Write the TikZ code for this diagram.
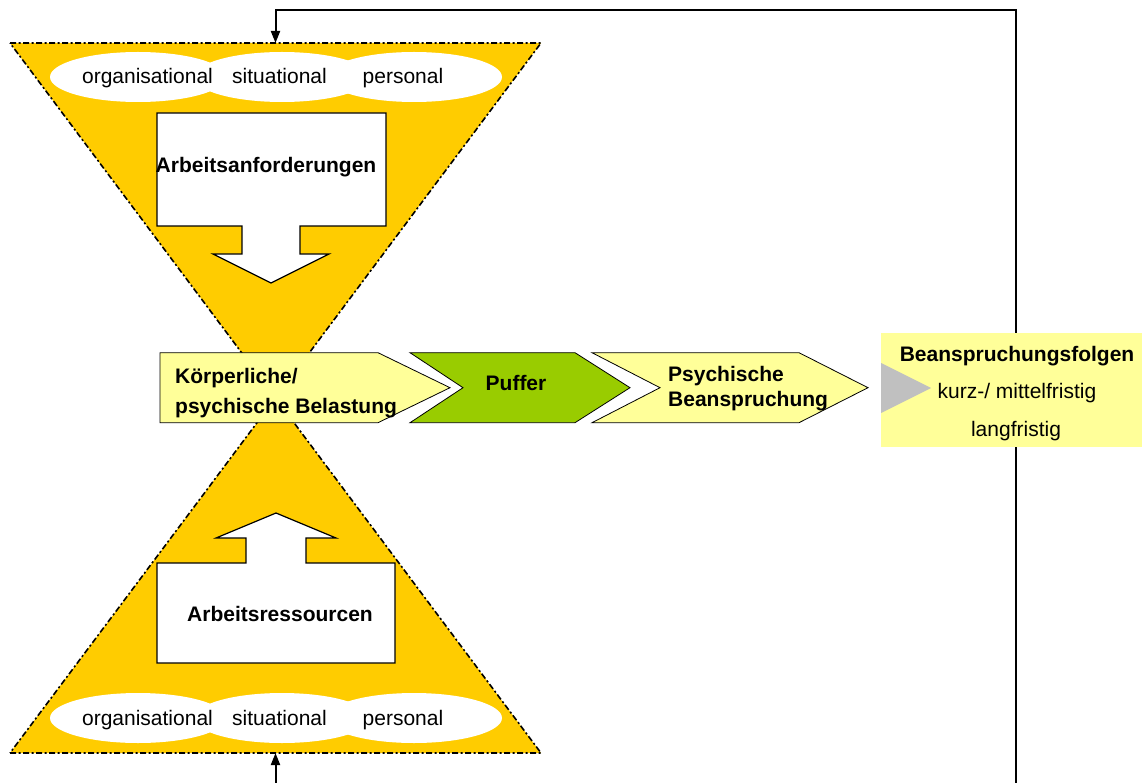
\documentclass[tikz,border=0pt]{standalone}
\usepackage{fontspec}
\setmainfont{Liberation Sans}
\usetikzlibrary{arrows.meta}
\definecolor{funnelyellow}{HTML}{FFCC00}
\definecolor{paleyellow}{HTML}{FFFF99}
\definecolor{buffergreen}{HTML}{99CC00}
\definecolor{pointergray}{HTML}{C0C0C0}
\begin{document}
\begin{tikzpicture}[x=1pt,y=-1pt,
  funnel/.style={fill=funnelyellow, draw=black, line width=1.6pt,
    dash pattern=on 6pt off 2.5pt on 2pt off 2.5pt},
  factor/.style={fill=white},
  lbl/.style={inner sep=0pt, anchor=base, font=\fontsize{21}{24}\selectfont},
  blbl/.style={inner sep=0pt, anchor=base, font=\fontsize{21}{24}\selectfont\bfseries},
  blbll/.style={blbl, anchor=base west},
  blockarrow/.style={fill=white, draw=black, line width=1.2pt},
  chevron/.style={draw=black, line width=0.8pt},
  outcome/.style={fill=paleyellow, minimum width=271pt, minimum height=114pt,
    inner sep=0pt},
  feedback/.style={draw=black, line width=2pt,
    -{Triangle[length=12pt,width=9pt]}}]
\useasboundingbox (0,0) rectangle (1142,783);
\clip (0,0) rectangle (1142,783);

% the two funnel triangles meeting at the waist
\path[funnel] (10,43) -- (541,43) -- (275.5,398) -- cycle;
\path[funnel] (10,753) -- (541,753) -- (275.5,398) -- cycle;
\coordinate (topin) at (275.5,43);
\coordinate (botin) at (275.5,753);

% factor ellipses, top and bottom
\foreach \cy in {77,718}{
  \fill[factor] (138,\cy) ellipse [x radius=88pt, y radius=25pt];
  \fill[factor] (282,\cy) ellipse [x radius=88pt, y radius=25pt];
  \fill[factor] (414,\cy) ellipse [x radius=88pt, y radius=25pt];
}
\node[lbl] (orgT) at (147.5,84) {organisational};
\node[lbl] (sitT) at (279.5,84) {situational};
\node[lbl] (perT) at (403,84) {personal};
\node[lbl] (orgB) at (147.5,725) {organisational};
\node[lbl] (sitB) at (279.5,725) {situational};
\node[lbl] (perB) at (403,725) {personal};

% block arrows
\path[blockarrow] (157,113) -- (386,113) -- (386,226) -- (300,226) -- (300,254)
  -- (329,254) -- (271,283) -- (213,254) -- (242,254) -- (242,226)
  -- (157,226) -- cycle;
\node[blbl] (anf) at (266,173) {Arbeitsanforderungen};
\path[blockarrow] (157,663) -- (395,663) -- (395,563) -- (306,563) -- (306,538)
  -- (336,538) -- (276,513) -- (216,538) -- (246,538) -- (246,563)
  -- (157,563) -- cycle;
\node[blbl] (res) at (280,621) {Arbeitsressourcen};

% process chevrons
\path[chevron, fill=paleyellow] (160,352.7) -- (378,352.7) -- (450,387.7)
  -- (378,422.7) -- (160,422.7) -- cycle;
\path[chevron, fill=buffergreen] (410,352.7) -- (575,352.7) -- (630,387.7)
  -- (575,422.7) -- (410,422.7) -- (463,387.7) -- cycle;
\path[chevron, fill=paleyellow] (592,352.7) -- (799,352.7) -- (868,387.7)
  -- (799,422.7) -- (592,422.7) -- (660,387.7) -- cycle;
\node[blbll] (belastung1) at (175,383) {Körperliche/};
\node[blbll] (belastung2) at (175,413) {psychische Belastung};
\node[blbl] (puffer) at (516,390) {Puffer};
\node[blbll] (beanspruchung1) at (668,381) {Psychische};
\node[blbll] (beanspruchung2) at (668,406) {Beanspruchung};

% outcomes box with its pointer
\node[outcome] (folgen) at (1016.5,390) {};
\node[blbl] (folgentitle) at (1017,361) {Beanspruchungsfolgen};
\node[lbl] (kurz) at (1017,398.5) {kurz-/ mittelfristig};
\node[lbl] (lang) at (1016,436.5) {langfristig};
\fill[pointergray] (881,363) -- (931,388) -- (881,413) -- cycle;

% feedback loop back into both funnels
\coordinate (fbtop) at (1016,10);
\coordinate (fbbot) at (1016,800);
\draw[feedback] (folgen.north -| fbtop) -- (fbtop) -| (topin);
\draw[feedback] (folgen.south -| fbbot) -- (fbbot) -| (botin);
\end{tikzpicture}
\end{document}
